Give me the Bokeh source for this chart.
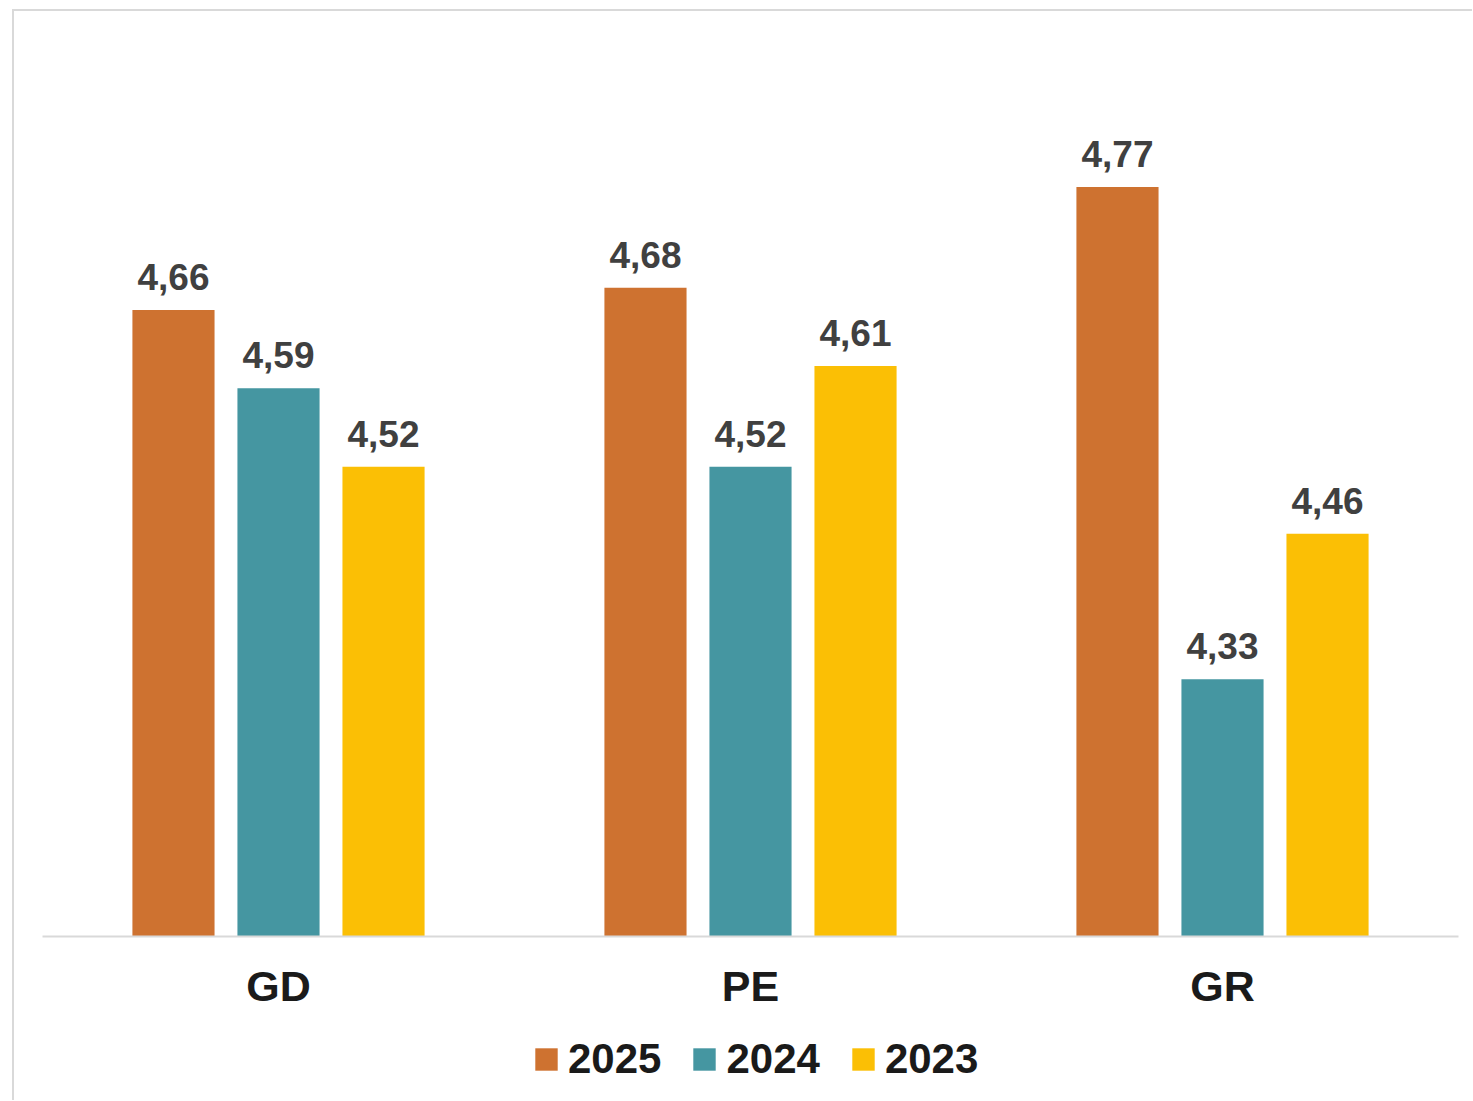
from bokeh.plotting import figure
from bokeh.layouts import column
from bokeh.models import ColumnDataSource, FactorRange, Range1d, Legend, LegendItem
from bokeh.transform import dodge
from bokeh.core.properties import value
from bokeh.embed import file_html
from bokeh.resources import INLINE

categories = ["GD", "PE", "GR"]
years = ["2025", "2024", "2023"]
v2025 = [4.66, 4.68, 4.77]
v2024 = [4.59, 4.52, 4.33]
v2023 = [4.52, 4.61, 4.46]
colors = ["#CE7230", "#4596A1", "#FBBF05"]
y_min, y_max = 4.1, 4.9

series = [v2025, v2024, v2023]


def fmt(v):
    return f"{v:.2f}".replace(".", ",")


data = dict(cat=categories)
for y, vals in zip(years, series):
    data["v" + y] = vals
    data["l" + y] = [fmt(v) for v in vals]
src = ColumnDataSource(data)

FONT = value("Liberation Sans")

# main chart
p = figure(
    x_range=FactorRange(*categories, range_padding=0),
    y_range=Range1d(y_min, y_max),
    width=1458, height=1006,
    output_backend="svg", toolbar_location=None,
    y_axis_location=None,
    min_border_left=28, min_border_right=14, min_border_top=30, min_border_bottom=81,
    outline_line_color=None,
)
p.xgrid.visible = False
p.ygrid.visible = False

offsets = [-0.2225, 0.0, 0.2225]
bar_w = 0.174
for y, off, col in zip(years, offsets, colors):
    p.vbar(x=dodge("cat", off, range=p.x_range), top="v" + y, bottom=y_min,
           width=bar_w, source=src, fill_color=col, line_color=None)
    p.text(x=dodge("cat", off, range=p.x_range), y="v" + y, text="l" + y, source=src,
           text_align="center", text_baseline="alphabetic", y_offset=-33,
           text_font=FONT, text_font_style="bold", text_font_size="37px",
           text_color="#404040")

ax = p.xaxis[0]
ax.axis_line_color = "#d9d9d9"
ax.axis_line_width = 2
ax.major_tick_line_color = None
ax.minor_tick_line_color = None
ax.major_label_text_font = "Liberation Sans"
ax.major_label_text_font_style = "bold"
ax.major_label_text_font_size = "43px"
ax.major_label_text_color = "#1a1a1a"
ax.major_label_standoff = 19

# legend strip: its hidden bar renderers only supply the legend swatches
lp = figure(
    x_range=FactorRange(*categories, range_padding=0),
    y_range=Range1d(0, 1),
    width=1458, height=83,
    output_backend="svg", toolbar_location=None,
    x_axis_location=None, y_axis_location=None,
    min_border_left=28, min_border_right=14, min_border_top=0, min_border_bottom=0,
    outline_line_color=None,
)
lp.grid.visible = False
items = []
for y, off, col in zip(years, offsets, colors):
    r = lp.vbar(x=dodge("cat", off, range=lp.x_range), top="v" + y, bottom=y_min,
                width=bar_w, source=src, fill_color=col, line_color=None,
                visible=False)
    items.append(LegendItem(label=y, renderers=[r]))

legend = Legend(items=items, orientation="horizontal", location="left",
                border_line_color=None, background_fill_alpha=0,
                label_text_font="Liberation Sans", label_text_font_style="bold",
                label_text_font_size="42px", label_text_color="#1a1a1a",
                glyph_width=28, glyph_height=28, label_standoff=8, spacing=29,
                padding=0, margin=490)
lp.add_layout(legend, "center")

layout = column(p, lp, spacing=0, margin=(9, 0, 0, 12),
                styles={"border-left": "2px solid #d9d9d9",
                        "border-top": "2px solid #d9d9d9"})

open("out.html", "w").write(file_html(layout, INLINE))
